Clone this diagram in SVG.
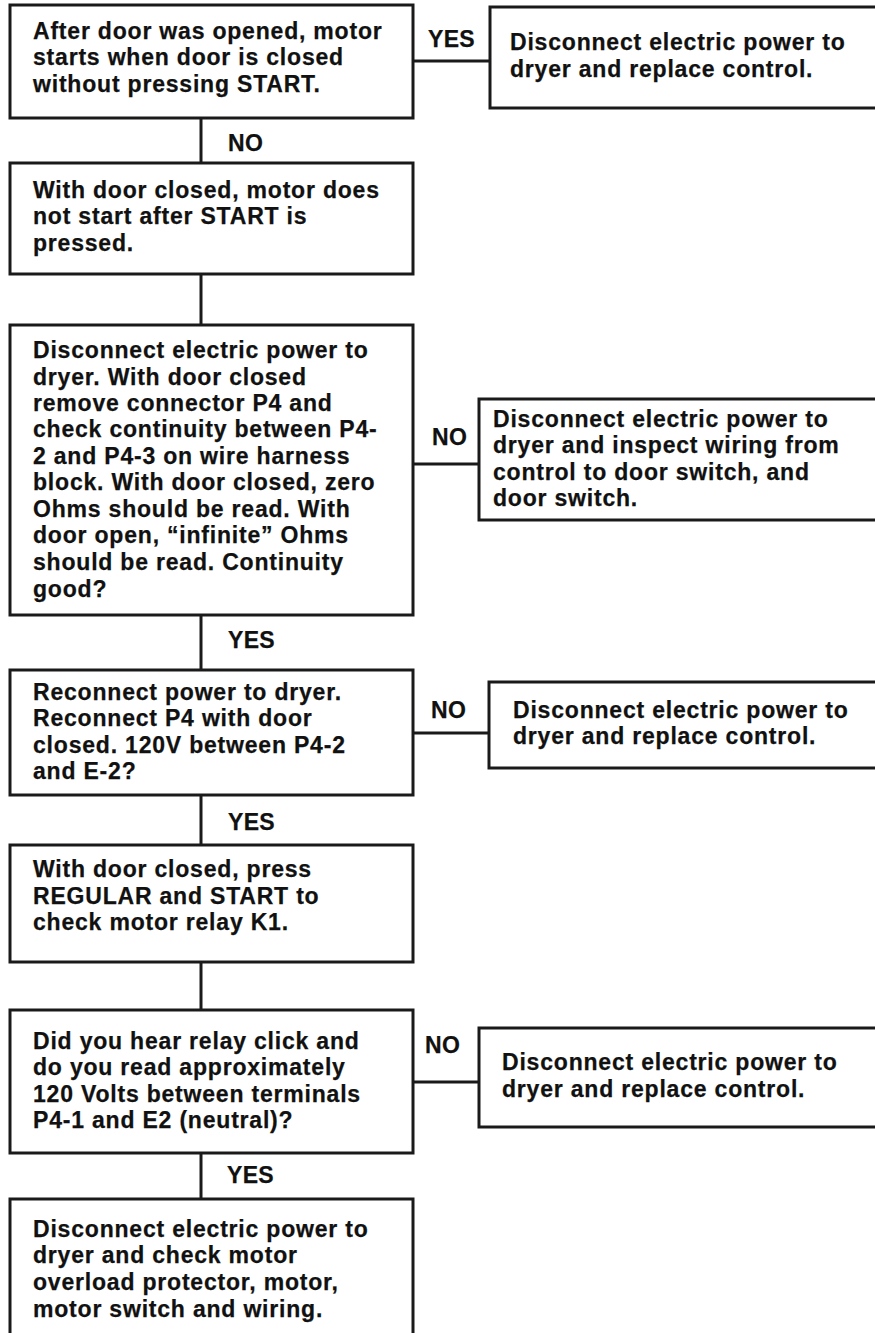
<svg xmlns="http://www.w3.org/2000/svg" width="875" height="1333" viewBox="0 0 875 1333">
<style>
  .box { fill: #ffffff; stroke: #1a1a1a; stroke-width: 3; }
  .t { font-family: "Liberation Sans", Arial, sans-serif; font-weight: bold; font-size: 23px; letter-spacing: 0.8px; fill: #111111; stroke: #111111; stroke-width: 0.25; }
  .lbl { font-family: "Liberation Sans", Arial, sans-serif; font-weight: bold; font-size: 23px; letter-spacing: 0.3px; fill: #111111; stroke: #111111; stroke-width: 0.25; }
  .c { stroke: #1a1a1a; stroke-width: 3; fill: none; }
</style>
<rect width="875" height="1333" fill="#ffffff"/>
<g id="connectors">
  <line class="c" x1="201" y1="118" x2="201" y2="163"/>
  <line class="c" x1="201" y1="274" x2="201" y2="325"/>
  <line class="c" x1="201" y1="615" x2="201" y2="670"/>
  <line class="c" x1="201" y1="795" x2="201" y2="845"/>
  <line class="c" x1="201" y1="962" x2="201" y2="1010"/>
  <line class="c" x1="201" y1="1153" x2="201" y2="1199"/>
  <line class="c" x1="413" y1="61" x2="490" y2="61"/>
  <line class="c" x1="413" y1="464" x2="479" y2="464"/>
  <line class="c" x1="413" y1="733" x2="489" y2="733"/>
  <line class="c" x1="413" y1="1082" x2="479" y2="1082"/>
  <text class="lbl" x="428" y="47">YES</text>
  <text class="lbl" x="228" y="151">NO</text>
  <text class="lbl" x="432" y="445">NO</text>
  <text class="lbl" x="228" y="648">YES</text>
  <text class="lbl" x="431" y="718">NO</text>
  <text class="lbl" x="228" y="830">YES</text>
  <text class="lbl" x="425" y="1053">NO</text>
  <text class="lbl" x="227" y="1183">YES</text>
</g>
<g id="n1">
  <rect class="box" x="10" y="5" width="403" height="113"/>
  <text class="t" x="33" y="39">After door was opened, motor</text>
  <text class="t" x="33" y="65">starts when door is closed</text>
  <text class="t" x="33" y="92">without pressing START.</text>
</g>
<g id="n1r">
  <rect class="box" x="490" y="7" width="400" height="101"/>
  <text class="t" x="510" y="50">Disconnect electric power to</text>
  <text class="t" x="510" y="77">dryer and replace control.</text>
</g>
<g id="n2">
  <rect class="box" x="10" y="163" width="403" height="111"/>
  <text class="t" x="33" y="198">With door closed, motor does</text>
  <text class="t" x="33" y="224">not start after START is</text>
  <text class="t" x="33" y="251">pressed.</text>
</g>
<g id="n3">
  <rect class="box" x="10" y="325" width="403" height="290"/>
  <text class="t" x="33" y="358">Disconnect electric power to</text>
  <text class="t" x="33" y="385">dryer. With door closed</text>
  <text class="t" x="33" y="411">remove connector P4 and</text>
  <text class="t" x="33" y="437">check continuity between P4-</text>
  <text class="t" x="33" y="464">2 and P4-3 on wire harness</text>
  <text class="t" x="33" y="490">block. With door closed, zero</text>
  <text class="t" x="33" y="517">Ohms should be read. With</text>
  <text class="t" x="33" y="543">door open, “infinite” Ohms</text>
  <text class="t" x="33" y="570">should be read. Continuity</text>
  <text class="t" x="33" y="597">good?</text>
</g>
<g id="n3r">
  <rect class="box" x="479" y="399" width="411" height="121"/>
  <text class="t" x="493" y="427">Disconnect electric power to</text>
  <text class="t" x="493" y="453">dryer and inspect wiring from</text>
  <text class="t" x="493" y="480">control to door switch, and</text>
  <text class="t" x="493" y="506">door switch.</text>
</g>
<g id="n4">
  <rect class="box" x="10" y="670" width="403" height="125"/>
  <text class="t" x="33" y="700">Reconnect power to dryer.</text>
  <text class="t" x="33" y="726">Reconnect P4 with door</text>
  <text class="t" x="33" y="753">closed. 120V between P4-2</text>
  <text class="t" x="33" y="779">and E-2?</text>
</g>
<g id="n4r">
  <rect class="box" x="489" y="682" width="401" height="86"/>
  <text class="t" x="513" y="718">Disconnect electric power to</text>
  <text class="t" x="513" y="744">dryer and replace control.</text>
</g>
<g id="n5">
  <rect class="box" x="10" y="845" width="403" height="117"/>
  <text class="t" x="33" y="877">With door closed, press</text>
  <text class="t" x="33" y="904">REGULAR and START to</text>
  <text class="t" x="33" y="930">check motor relay K1.</text>
</g>
<g id="n6">
  <rect class="box" x="10" y="1010" width="403" height="143"/>
  <text class="t" x="33" y="1049">Did you hear relay click and</text>
  <text class="t" x="33" y="1075">do you read approximately</text>
  <text class="t" x="33" y="1102">120 Volts between terminals</text>
  <text class="t" x="33" y="1128">P4-1 and E2 (neutral)?</text>
</g>
<g id="n6r">
  <rect class="box" x="479" y="1028" width="411" height="99"/>
  <text class="t" x="502" y="1070">Disconnect electric power to</text>
  <text class="t" x="502" y="1097">dryer and replace control.</text>
</g>
<g id="n7">
  <rect class="box" x="10" y="1199" width="403" height="145"/>
  <text class="t" x="33" y="1237">Disconnect electric power to</text>
  <text class="t" x="33" y="1263">dryer and check motor</text>
  <text class="t" x="33" y="1290">overload protector, motor,</text>
  <text class="t" x="33" y="1317">motor switch and wiring.</text>
</g>
</svg>
